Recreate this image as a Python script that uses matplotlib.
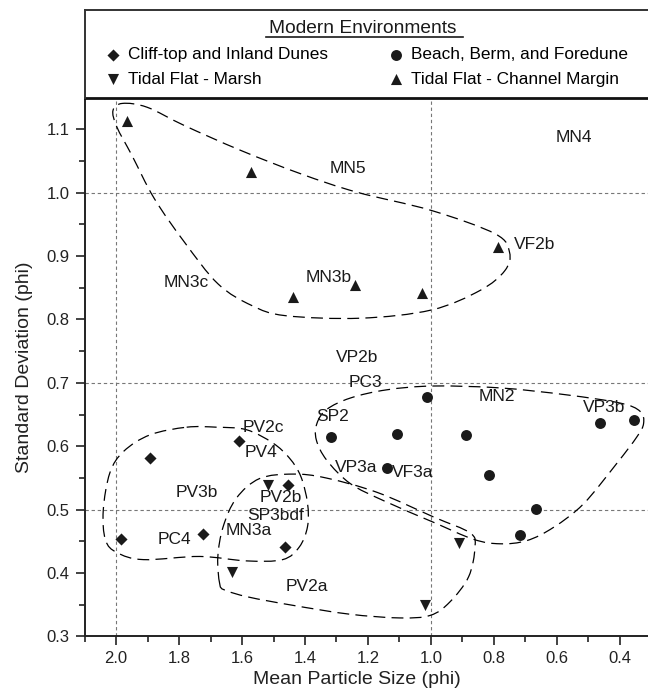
import numpy as np
import matplotlib
matplotlib.use("Agg")
import matplotlib.pyplot as plt
from matplotlib.path import Path
from matplotlib.patches import PathPatch

plt.rcParams['font.family'] = ['Liberation Sans', 'DejaVu Sans']

# sample groups (mean size phi, standard deviation phi)
dune_x = [1.892, 1.611, 1.453, 1.984, 1.723, 1.465]
dune_y = [0.582, 0.609, 0.539, 0.453, 0.462, 0.441]
beach_x = [1.317, 1.108, 1.013, 0.888, 1.138, 0.815, 0.665, 0.716, 0.462, 0.356]
beach_y = [0.615, 0.619, 0.678, 0.618, 0.566, 0.555, 0.501, 0.460, 0.637, 0.641]
marsh_x = [1.518, 1.633, 0.912, 1.020]
marsh_y = [0.539, 0.401, 0.447, 0.349]
channel_x = [1.964, 1.571, 0.786, 1.242, 1.438, 1.027]
channel_y = [1.114, 1.032, 0.914, 0.855, 0.836, 0.842]

# site labels
site_names = ["MN4", "MN5", "VF2b", "MN3c", "MN3b", "PV2c", "PV4", "PV3b", "PV2b",
              "SP3bdf", "MN3a", "PC4", "PV2a", "SP2", "VP2b", "PC3", "MN2", "VP3b",
              "VP3a", "VF3a"]
site_x = [0.545, 1.263, 0.670, 1.777, 1.325, 1.532, 1.539, 1.744, 1.476,
          1.492, 1.579, 1.814, 1.393, 1.312, 1.233, 1.208, 0.790, 0.450,
          1.237, 1.059]
site_y = [1.087, 1.038, 0.918, 0.858, 0.867, 0.630, 0.590, 0.527, 0.519,
          0.490, 0.467, 0.452, 0.378, 0.647, 0.740, 0.700, 0.679, 0.661,
          0.567, 0.559]

# hand-drawn envelopes around each environment
channel_env_x = [1.980, 1.902, 1.783, 1.605, 1.414, 1.236, 0.998, 0.795, 0.750, 0.765,
                 0.843, 0.998, 1.224, 1.462, 1.569, 1.676, 1.783, 1.879, 1.950, 1.998, 2.010]
channel_env_y = [1.141, 1.135, 1.106, 1.067, 1.030, 1.001, 0.972, 0.935, 0.906, 0.877,
                 0.846, 0.815, 0.802, 0.806, 0.822, 0.856, 0.922, 0.991, 1.059, 1.104, 1.130]
dune_env_x = [1.776, 1.681, 1.586, 1.502, 1.449, 1.413, 1.392, 1.392, 1.418, 1.471,
              1.586, 1.734, 1.913, 1.997, 2.034, 2.041, 2.020, 1.976, 1.892]
dune_env_y = [0.630, 0.630, 0.626, 0.605, 0.581, 0.552, 0.510, 0.473, 0.441, 0.421,
              0.419, 0.426, 0.421, 0.432, 0.452, 0.499, 0.558, 0.592, 0.618]
marsh_env_x = [1.671, 1.677, 1.660, 1.618, 1.544, 1.439, 1.334, 1.170, 0.990, 0.875,
               0.860, 0.880, 0.940, 1.002, 1.100, 1.260, 1.440, 1.580, 1.655]
marsh_env_y = [0.383, 0.425, 0.473, 0.518, 0.549, 0.556, 0.550, 0.527, 0.488, 0.463,
               0.440, 0.394, 0.354, 0.333, 0.329, 0.335, 0.349, 0.362, 0.373]
beach_env_x = [1.362, 1.331, 1.256, 1.140, 0.992, 0.780, 0.568, 0.398, 0.335, 0.324,
               0.345, 0.409, 0.515, 0.610, 0.695, 0.780, 0.864, 0.992, 1.150, 1.256,
               1.331, 1.364]
beach_env_y = [0.636, 0.658, 0.676, 0.689, 0.695, 0.692, 0.681, 0.668, 0.655, 0.636,
               0.615, 0.573, 0.509, 0.472, 0.451, 0.446, 0.453, 0.480, 0.514, 0.541,
               0.578, 0.610]


def envelope_path(xs, ys):
    # closed smooth outline through the points (catmull-rom as bezier)
    p = np.column_stack([xs, ys])
    n = len(p)
    verts = [p[0]]
    codes = [Path.MOVETO]
    for i in range(n):
        p0, p1, p2, p3 = p[i - 1], p[i], p[(i + 1) % n], p[(i + 2) % n]
        verts += [p1 + (p2 - p0) / 6, p2 - (p3 - p1) / 6, p2]
        codes += [Path.CURVE4] * 3
    return Path(verts, codes)


fig = plt.figure(figsize=(6.48, 6.94), dpi=100)
ax = fig.add_axes([84.7 / 648, 57.7 / 694, 563.3 / 648, 538.6 / 694])

for v in [2.0, 1.0]:
    ax.axvline(v, color='#777777', lw=0.8, ls=(0, (3, 2.5)), zorder=1)
for v in [1.0, 0.7, 0.5]:
    ax.axhline(v, color='#777777', lw=0.8, ls=(0, (3, 2.5)), zorder=1)

for ex, ey in [(channel_env_x, channel_env_y), (dune_env_x, dune_env_y),
               (marsh_env_x, marsh_env_y), (beach_env_x, beach_env_y)]:
    ax.add_patch(PathPatch(envelope_path(ex, ey), fill=False, ec='black',
                           lw=0.9, ls=(0, (9.5, 5)), zorder=2))

h_dune = ax.scatter(dune_x, dune_y, marker='D', s=38, c='#1a1a1a', lw=0, zorder=3)
h_beach = ax.scatter(beach_x, beach_y, marker='o', s=62, c='#1a1a1a', lw=0, zorder=3)
h_marsh = ax.scatter(marsh_x, marsh_y, marker='v', s=64, c='#1a1a1a', lw=0, zorder=3)
h_channel = ax.scatter(channel_x, channel_y, marker='^', s=64, c='#1a1a1a', lw=0, zorder=3)

for name, x, y in zip(site_names, site_x, site_y):
    ax.text(x, y, name, fontsize=12.5, ha='center', va='center', color='#1a1a1a', zorder=4)

ax.set_xlim(2.1, 0.31)
ax.set_ylim(0.3, 1.15)
ax.set_xticks(np.arange(2.0, 0.35, -0.2))
ax.set_xticks(np.arange(2.1, 0.3, -0.1), minor=True)
ax.set_yticks(np.arange(0.3, 1.11, 0.1))
ax.set_yticks(np.arange(0.3, 1.15, 0.05), minor=True)
ax.xaxis.set_major_formatter(plt.FormatStrFormatter('%.1f'))
ax.yaxis.set_major_formatter(plt.FormatStrFormatter('%.1f'))
ax.tick_params(which='major', direction='out', length=6.2, width=1.2, labelsize=12, pad=4.5,
               colors='#222222')
ax.tick_params(which='minor', direction='out', length=4, width=1.2, colors='#222222')
ax.spines['right'].set_visible(False)
for s in ['left', 'bottom']:
    ax.spines[s].set_linewidth(1.4)
    ax.spines[s].set_color('#222222')
ax.spines['top'].set_linewidth(2.0)
ax.spines['top'].set_color('#111111')

ax.set_xlabel("Mean Particle Size (phi)", fontsize=14, color='#222222')
ax.set_ylabel("Standard Deviation (phi)", fontsize=14, color='#222222')
ax.xaxis.set_label_coords(0.483, -0.064)
ax.yaxis.set_label_coords(-0.092, 0.5)

# legend panel above the plot
lax = fig.add_axes([84.7 / 648, 596.3 / 694, 563.3 / 648, 87.7 / 694])
lax.set_xticks([])
lax.set_yticks([])
lax.patch.set_alpha(0)
lax.spines['right'].set_visible(False)
lax.spines['bottom'].set_visible(False)
for s in ['left', 'top']:
    lax.spines[s].set_linewidth(1.4)
    lax.spines[s].set_color('#333333')

lax.text(0.493, 0.735, "Modern Environments", fontsize=13.8, ha='center',
         va='baseline', transform=lax.transAxes, color='#1a1a1a')
lax.plot([0.322, 0.672], [0.692, 0.692], color='#1a1a1a', lw=1.2, transform=lax.transAxes)

fig.legend([h_dune, h_marsh, h_beach, h_channel],
           ["Cliff-top and Inland Dunes", "Tidal Flat - Marsh",
            "Beach, Berm, and Foredune", "Tidal Flat - Channel Margin"],
           ncol=2, frameon=False, fontsize=12.4, loc='upper left',
           bbox_to_anchor=(104.1 / 648, 1 - 47.0 / 694), borderpad=0, borderaxespad=0,
           handlelength=1.0, handletextpad=0.41, columnspacing=3.4, labelspacing=0.55,
           scatterpoints=1)

fig.savefig("out.png", dpi=100)
